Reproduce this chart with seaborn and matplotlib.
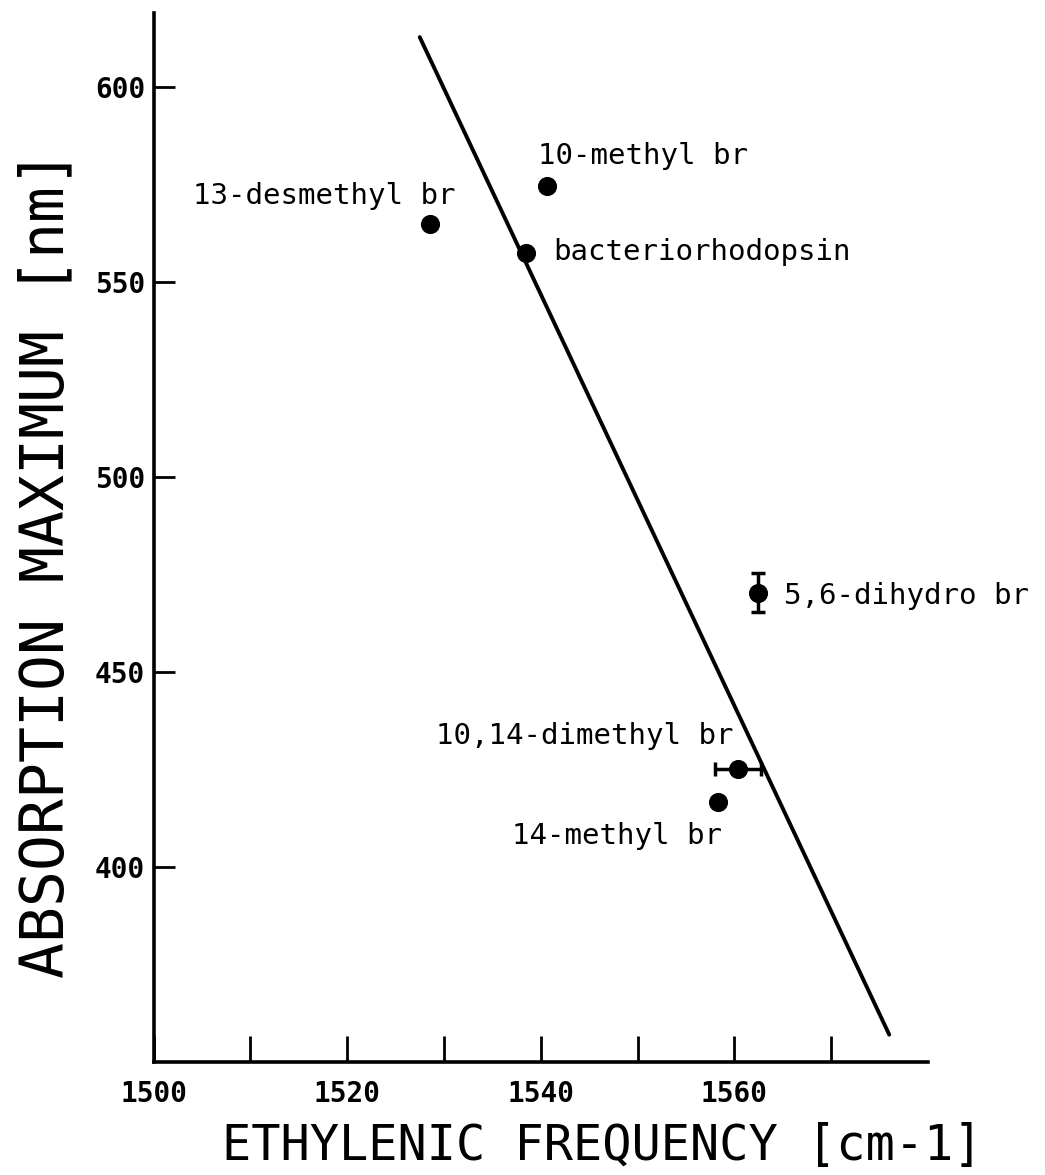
import matplotlib
matplotlib.use("Agg")
import matplotlib.pyplot as plt
import seaborn as sns
import pandas as pd

# data
names = ["13-desmethyl br", "10-methyl br", "bacteriorhodopsin",
         "5,6-dihydro br", "10,14-dimethyl br", "14-methyl br"]
freq = [1528.6, 1540.6, 1538.5, 1562.4, 1560.4, 1558.3]
absmax = [564.9, 574.6, 557.4, 470.3, 425.1, 416.7]
xerr = [0, 0, 0, 0, 2.4, 0]
yerr = [0, 0, 0, 5.0, 0, 0]

# regression line end points
line_x = [1527.5, 1576.0]
line_y = [612.8, 357.0]

# label anchors (data coords) and alignment
label_x = [1531.2, 1539.7, 1541.3, 1565.1, 1529.2, 1537.0]
label_y = [572.1, 582.3, 557.6, 469.5, 433.6, 407.9]
label_ha = ["right", "left", "left", "left", "left", "left"]

xticks = [1500, 1510, 1520, 1530, 1540, 1550, 1560, 1570]
xticklabels = ["1500", "", "1520", "", "1540", "", "1560", ""]
yticks = [400, 450, 500, 550, 600]

df = pd.DataFrame({"name": names, "freq": freq, "absmax": absmax})

sns.set_style("ticks")
plt.rcParams["font.family"] = ["DejaVu Sans Mono"]
plt.rcParams["text.color"] = "black"
plt.rcParams["axes.labelcolor"] = "black"
plt.rcParams["xtick.color"] = "black"
plt.rcParams["ytick.color"] = "black"
plt.rcParams["axes.edgecolor"] = "black"

fig = plt.figure(figsize=(10.45, 11.75), dpi=100)
ax = fig.add_axes([0.1469, 0.0962, 0.7411, 0.8928])

sns.lineplot(x=line_x, y=line_y, ax=ax, color="black", linewidth=2.8)
sns.scatterplot(data=df, x="freq", y="absmax", ax=ax, color="black",
                s=190, edgecolor="black", linewidth=0, zorder=3)
for xi, yi, ex, ey in zip(freq, absmax, xerr, yerr):
    if ex or ey:
        ax.errorbar(xi, yi, xerr=ex or None, yerr=ey or None, fmt="none",
                    ecolor="black", elinewidth=2.5, capsize=5, capthick=2.5)

for t, xi, yi, ha in zip(names, label_x, label_y, label_ha):
    ax.text(xi, yi, t, ha=ha, va="center", fontsize=21, color="black")

ax.set_xlim(1500, 1580)
ax.set_ylim(350, 619)
ax.set_xticks(xticks)
ax.set_xticklabels(xticklabels, fontsize=20, fontweight="bold")
ax.set_yticks(yticks)
ax.set_yticklabels([str(v) for v in yticks], fontsize=20, fontweight="bold")
ax.tick_params(axis="x", direction="in", length=19, width=2, pad=13)
ax.tick_params(axis="y", direction="in", length=15, width=2, pad=6)

sns.despine(ax=ax)
for s in ["left", "bottom"]:
    ax.spines[s].set_linewidth(2.6)

ax.set_xlabel("ETHYLENIC FREQUENCY [cm-1]", fontsize=35)
ax.set_ylabel("ABSORPTION MAXIMUM [nm]", fontsize=43)
ax.xaxis.set_label_coords(0.58, -0.057)
ax.yaxis.set_label_coords(-0.099, 0.475)

fig.savefig("out.png", dpi=100)
